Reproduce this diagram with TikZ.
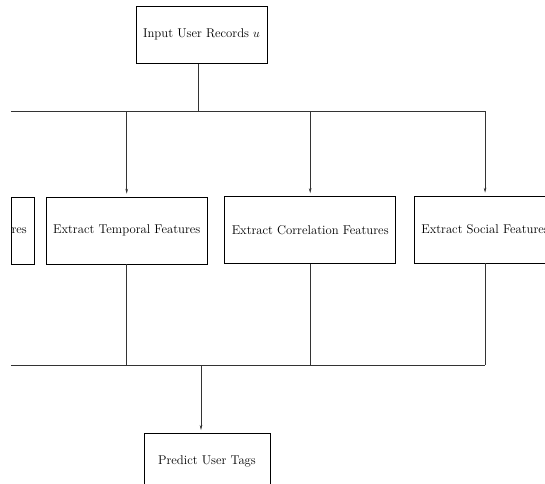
\documentclass[tikz,border=0pt]{standalone}
\usetikzlibrary{arrows.meta}

\tikzset{
  featbox/.style={draw, line width=0.6pt, inner xsep=7pt, minimum height=67pt},
  endbox/.style={draw, line width=0.6pt, inner xsep=7pt, inner ysep=0pt, text height=31pt, text depth=26pt},
  bus/.style={line width=0.6pt, black!80},
}

\begin{document}
\begin{tikzpicture}[x=1pt, y=-1pt, >={Stealth[length=5pt, width=2.6pt]}, font=\fontsize{12.7}{15}\selectfont]
    \useasboundingbox (0,0) rectangle (545,483);
    \clip (0,0) rectangle (545,483);
    % boxes
    \node[endbox, anchor=north] (input) at (201.5,6) {Input User Records $u$};
    \node[featbox, anchor=east, inner xsep=0.5pt] (stub) at (34.7,230.5) {res\hspace*{7pt}};
    \node[featbox] (temporal) at (126.7,230.5) {Extract Temporal Features};
    \node[featbox] (correlation) at (310.2,230) {Extract Correlation Features};
    \node[featbox, anchor=west] (social) at (414,229.5) {Extract Social Features};
    \node[endbox, anchor=north, minimum width=126pt] (predict) at (207,433) {Predict User Tags};
    % buses
    \coordinate (busin) at (198,111);
    \coordinate (busout) at (201,365);
    \draw[bus] (input.south -| busin) -- (busin);
    \draw[bus] (stub.west |- busin) -- (social.north |- busin);
    \draw[bus] (stub.west |- busout) -- (social.south |- busout);
    \foreach \n in {temporal, correlation, social} {
        \draw[bus, ->, shorten >=3pt] (\n.north |- busin) -- (\n.north);
        \draw[bus] (\n.south) -- (\n.south |- busout);
    }
    \draw[bus, ->, shorten >=3pt] (busout) -- (predict.north -| busout);
\end{tikzpicture}
\end{document}
